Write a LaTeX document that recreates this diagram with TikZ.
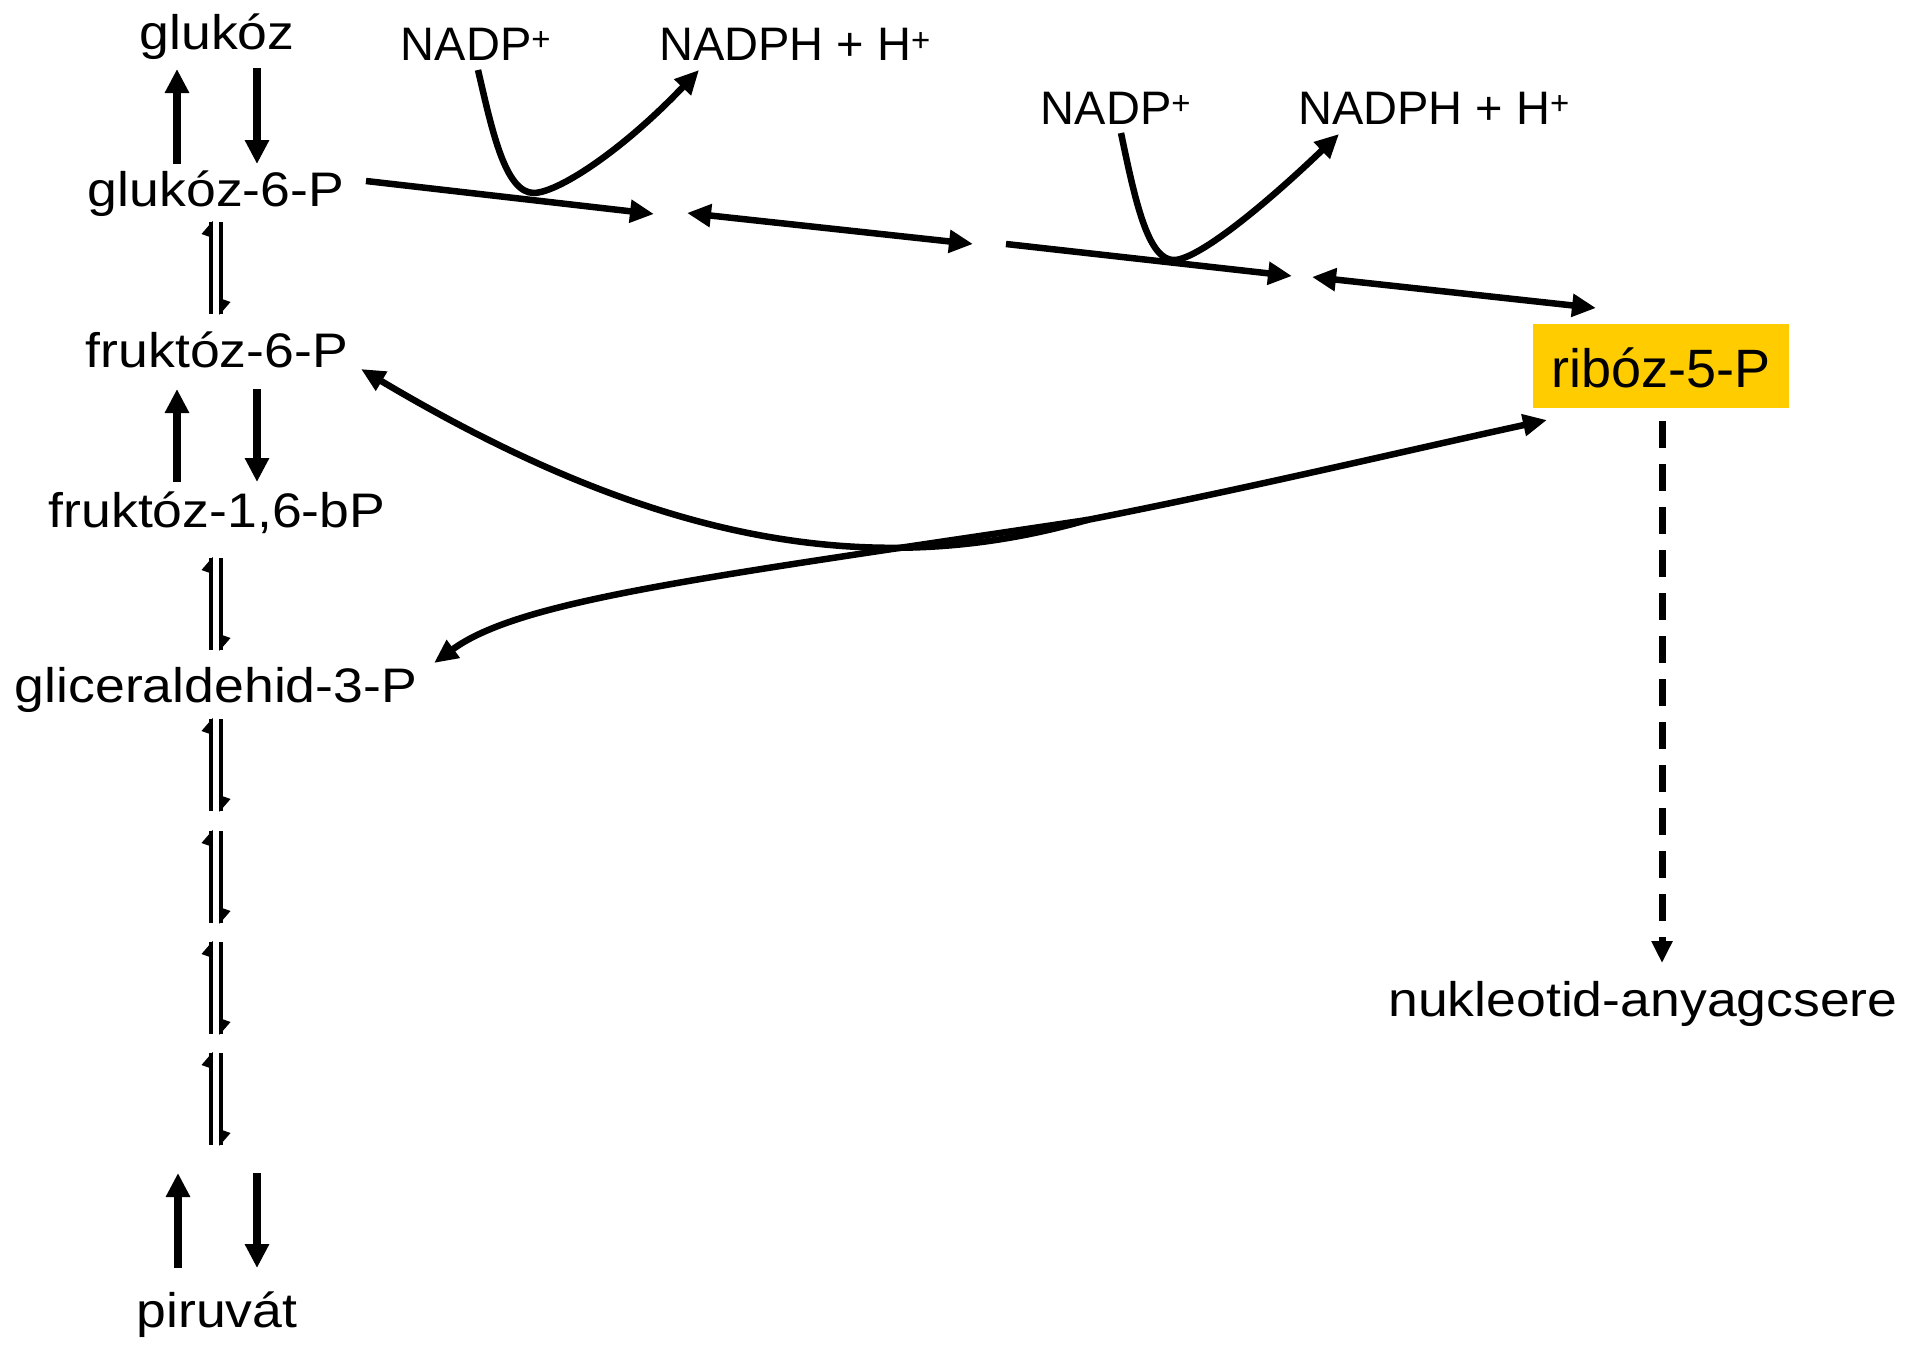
\documentclass[tikz,border=0pt]{standalone}
\usepackage{fontspec}
\setmainfont{Liberation Sans}
\usetikzlibrary{arrows.meta}

\definecolor{ribgold}{HTML}{FFCC00}
\newcommand\widetxt[1]{\scalebox{1.105}[1]{#1}}

\begin{document}
\begin{tikzpicture}[x=1pt,y=-1pt,
  lbl/.style={anchor=base,inner sep=0pt,font=\fontsize{48.5}{56}\selectfont},
  cof/.style={anchor=base,inner sep=0pt,font=\fontsize{47}{56}\selectfont},
  thick arrow/.style={line width=7.5pt,-{Triangle[length=24pt,width=23pt]}},
  chain/.style={line width=6.5pt,{Triangle[length=24pt,width=22pt]}-{Triangle[length=24pt,width=22pt]}},
  chainfwd/.style={line width=6.5pt,-{Triangle[length=24pt,width=22pt]}},
  swoop/.style={line width=6.5pt,line cap=round},
  swooptip/.style={swoop,-{Triangle[length=24pt,width=21pt]}},
  dashflow/.style={line width=7pt,dash pattern=on 27pt off 16pt,-{Triangle[length=22pt,width=20pt]}},
  equil/.pic={
    \draw[line width=3.5pt] (-5,0) -- (-5,92);
    \draw[line width=3.5pt] (5,0) -- (5,92);
    \fill (-3.25,-1) -- (-14.5,12) -- (-3.25,16) -- cycle;
    \fill (3.25,93) -- (14.5,80) -- (3.25,76) -- cycle;
  }]
\useasboundingbox (0,0) rectangle (1905,1346);

% metabolites of glycolysis
\node[lbl] (glu)  at (217,50)   {\widetxt{glukóz}};
\node[lbl] (g6p)  at (216,206)  {\widetxt{glukóz-6-P}};
\node[lbl] (f6p)  at (217,367)  {\widetxt{fruktóz-6-P}};
\node[lbl] (fbp)  at (217,527)  {\widetxt{fruktóz-1,6-bP}};
\node[lbl] (gap)  at (216,702)  {\widetxt{gliceraldehid-3-P}};
\node[lbl] (pyr)  at (217,1327) {\widetxt{piruvát}};

% cofactors of the oxidative branch
\node[cof] (nadp1)  at (476,60)  {NADP\textsuperscript{+}};
\node[cof] (nadph1) at (795,61)  {NADPH + H\textsuperscript{+}};
\node[cof] (nadp2)  at (1116,124) {NADP\textsuperscript{+}};
\node[cof] (nadph2) at (1434,124) {NADPH + H\textsuperscript{+}};

% ribose-5-phosphate and its fate
\node[anchor=base,inner sep=0pt,fill=ribgold,minimum width=256pt,
      text height=63pt,text depth=21pt,font=\fontsize{54}{60}\selectfont]
      (r5p) at (1661,387) {ribóz-5-P};
\node[lbl] (nuc) at (1643,1016) {\widetxt{nukleotid-anyagcsere}};

% irreversible steps
\coordinate (gA) at (177,164);  \coordinate (gB) at (177,69);
\coordinate (gC) at (257,68);   \coordinate (gD) at (257,164);
\coordinate (fA) at (177,482);  \coordinate (fB) at (177,389);
\coordinate (fC) at (257,389);  \coordinate (fD) at (257,482);
\coordinate (pA) at (178,1268); \coordinate (pB) at (178,1173);
\coordinate (pC) at (257,1173); \coordinate (pD) at (257,1268);
\draw[thick arrow] (gA) -- (gB);
\draw[thick arrow] (gC) -- (gD);
\draw[thick arrow] (fA) -- (fB);
\draw[thick arrow] (fC) -- (fD);
\draw[thick arrow] (pA) -- (pB);
\draw[thick arrow] (pC) -- (pD);

% reversible steps
\pic at (216,222)  {equil};
\pic at (216,558)  {equil};
\pic at (216,719)  {equil};
\pic at (216,831)  {equil};
\pic at (216,942)  {equil};
\pic at (216,1053) {equil};

% oxidative branch
\coordinate (o1s) at (366,181);  \coordinate (o1e) at (654,214);
\coordinate (o2s) at (687,213);  \coordinate (o2e) at (973,244);
\coordinate (o3s) at (1006,244); \coordinate (o3e) at (1292,276);
\coordinate (o4s) at (1312,277); \coordinate (o4e) at (1596,308);
\draw[chainfwd] (o1s) -- (o1e);
\draw[chain] (o2s) -- (o2e);
\draw[chainfwd] (o3s) -- (o3e);
\draw[chain] (o4s) -- (o4e);

% NADPH formation
\coordinate (n1a) at (478,70);  \coordinate (n1b) at (534,193); \coordinate (n1c) at (699,70);
\coordinate (n2a) at (1121,133); \coordinate (n2b) at (1175,260); \coordinate (n2c) at (1339,134);
\draw[chainfwd] (n1a) .. controls (492,130) and (505,193) .. (n1b)
                      .. controls (560,192) and (625,148) .. (n1c);
\draw[chainfwd] (n2a) .. controls (1135,200) and (1148,262) .. (n2b)
                      .. controls (1200,258) and (1265,205) .. (n2c);

% dashed flow into nucleotide metabolism
\coordinate (d0) at (1662,421); \coordinate (d1) at (1662,963);
\draw[dashflow] (d0) -- (d1);

% non-oxidative exchange with glycolysis
\coordinate (jn)  at (1087,520);
\coordinate (tF)  at (361,369);
\coordinate (tG)  at (434,663);
\coordinate (tR)  at (1547,420);
\draw[swooptip] (jn) .. controls (860,585) and (640,535) .. (tF);
\draw[swooptip] (jn) .. controls (700,578) and (520,600) .. (tG);
\draw[swooptip] (jn) .. controls (1250,488) and (1400,452) .. (tR);
\end{tikzpicture}
\end{document}
